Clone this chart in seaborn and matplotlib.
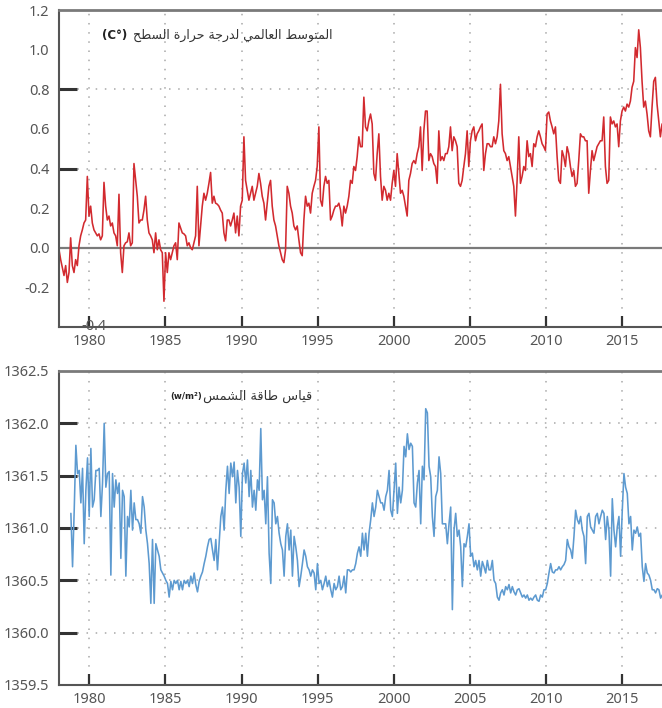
import numpy as np
import pandas as pd
import matplotlib
matplotlib.use("Agg")
import matplotlib.pyplot as plt
import seaborn as sns
from matplotlib.ticker import FixedLocator

# ---------------------------------------------------------------- data
# Global mean surface temperature anomaly (deg C), regular sampling
temp_start = 1978.01
temp_step = 0.1094
temp_anomaly = [
    -0.01, -0.06, -0.10, -0.14, -0.09, -0.175, -0.125, 0.05, -0.09, -0.125,
    -0.06, -0.09, 0.01, 0.06, 0.09, 0.125, 0.14, 0.36, 0.16, 0.21,
    0.125, 0.09, 0.075, 0.06, 0.07, 0.04, 0.06, 0.33, 0.21, 0.14,
    0.16, 0.11, 0.125, 0.075, 0.06, 0.01, 0.27, -0.025, -0.125, 0.01,
    0.025, 0.03, 0.075, 0.01, 0.025, 0.425, 0.34, 0.26, 0.125, 0.14,
    0.14, 0.19, 0.26, 0.14, 0.075, 0.06, 0.04, -0.025, 0.075, -0.01,
    0.04, -0.01, -0.025, -0.27, -0.025, -0.125, -0.025, -0.06, -0.025, 0.01,
    0.025, -0.06, 0.125, 0.10, 0.075, 0.07, 0.06, 0.01, 0.025, 0.0,
    -0.01, 0.025, 0.06, 0.31, 0.01, 0.11, 0.21, 0.275, 0.24, 0.275,
    0.325, 0.38, 0.225, 0.26, 0.225, 0.22, 0.21, 0.19, 0.175, 0.075,
    0.035, 0.14, 0.14, 0.11, 0.14, 0.175, 0.075, 0.16, 0.06, 0.21,
    0.24, 0.56, 0.34, 0.29, 0.24, 0.275, 0.31, 0.24, 0.275, 0.31,
    0.375, 0.325, 0.26, 0.225, 0.14, 0.225, 0.31, 0.34, 0.21, 0.14,
    0.11, 0.06, 0.01, -0.025, -0.06, -0.075, -0.01, 0.31, 0.275, 0.21,
    0.175, 0.11, 0.09, 0.11, 0.04, -0.025, -0.04, 0.14, 0.26, 0.21,
    0.225, 0.175, 0.275, 0.31, 0.34, 0.41, 0.61, 0.24, 0.21, 0.31,
    0.36, 0.325, 0.34, 0.14, 0.16, 0.19, 0.21, 0.21, 0.225, 0.19,
    0.11, 0.21, 0.175, 0.21, 0.26, 0.34, 0.325, 0.41, 0.39, 0.46,
    0.56, 0.51, 0.51,
    0.76, 0.61, 0.59, 0.64, 0.675, 0.625, 0.375, 0.34, 0.475, 0.575,
    0.36, 0.24, 0.31, 0.29, 0.24, 0.275, 0.24, 0.325, 0.39, 0.31,
    0.475, 0.375, 0.275, 0.29, 0.26, 0.21, 0.16, 0.34, 0.375, 0.425,
    0.44, 0.425, 0.475, 0.51, 0.61, 0.39, 0.59, 0.69, 0.69, 0.44,
    0.475, 0.46, 0.425, 0.41, 0.325, 0.59, 0.44, 0.46, 0.44, 0.475,
    0.475, 0.51, 0.61, 0.49, 0.56, 0.54, 0.51, 0.325, 0.31, 0.34,
    0.41, 0.475, 0.59, 0.41, 0.54, 0.59, 0.61, 0.54, 0.575, 0.59,
    0.61, 0.625, 0.39, 0.475, 0.525, 0.525, 0.51, 0.51, 0.56, 0.525,
    0.56, 0.64, 0.825, 0.575, 0.49, 0.475, 0.44, 0.46, 0.41, 0.36,
    0.31, 0.16, 0.34, 0.56, 0.325, 0.36, 0.41, 0.39, 0.54, 0.46,
    0.475, 0.41, 0.525, 0.51, 0.56, 0.59, 0.56, 0.525, 0.51, 0.49,
    0.675, 0.685, 0.64, 0.61, 0.575, 0.61, 0.46, 0.34, 0.325, 0.49,
    0.46, 0.41, 0.51, 0.475, 0.41, 0.36, 0.39, 0.31, 0.325, 0.44,
    0.575, 0.56, 0.56, 0.54, 0.54, 0.275, 0.39, 0.49, 0.44, 0.475,
    0.51, 0.525, 0.54, 0.54, 0.66, 0.41, 0.325, 0.34, 0.66, 0.625,
    0.64, 0.61, 0.625, 0.51, 0.64, 0.69, 0.71, 0.69, 0.725, 0.71,
    0.74, 0.81, 0.84, 1.01, 0.96, 1.10, 1.01, 0.84, 0.71, 0.74,
    0.675, 0.59, 0.56, 0.71, 0.84, 0.86, 0.725, 0.64, 0.56, 0.625,
]

# Total solar irradiance (W/m2), same sampling interval
tsi_start = 1978.79
tsi_step = 0.1094
tsi_values = [
    1361.14, 1360.63, 1361.17, 1361.79, 1361.52, 1361.55, 1361.24, 1361.57, 1360.85, 1361.36,
    1361.67, 1361.11, 1361.76, 1361.20, 1361.27, 1361.55, 1361.55, 1361.57, 1361.11, 1361.43,
    1362.00, 1361.39, 1361.52, 1361.54, 1360.55, 1361.52, 1361.20, 1361.46, 1361.33, 1361.43,
    1360.71, 1361.36, 1361.30, 1360.54, 1361.11, 1361.01, 1361.36, 1360.98, 1361.24, 1361.08,
    1361.08, 1361.04, 1360.95, 1361.30, 1361.20, 1360.98, 1360.85, 1360.66, 1360.28, 1360.89,
    1360.28, 1360.85, 1360.79, 1360.73, 1360.60, 1360.57, 1360.54, 1360.50, 1360.47, 1360.34,
    1360.49, 1360.41, 1360.50, 1360.47, 1360.50, 1360.41, 1360.49, 1360.41, 1360.50, 1360.47,
    1360.50, 1360.44, 1360.54, 1360.47, 1360.57, 1360.46, 1360.39, 1360.49, 1360.54, 1360.58,
    1360.66, 1360.73, 1360.82, 1360.89, 1360.90, 1360.79, 1360.69, 1360.89, 1360.60, 1360.85,
    1361.11, 1361.20, 1360.98, 1361.36, 1361.59, 1361.33, 1361.62, 1361.49, 1361.63, 1361.24,
    1361.55, 1361.39, 1360.92, 1361.52, 1361.62, 1361.43, 1361.65, 1361.30, 1361.55, 1361.20,
    1361.36, 1361.17, 1361.46, 1361.36, 1361.95, 1361.27, 1361.36, 1361.04, 1361.49, 1360.76,
    1360.47, 1361.27, 1361.24, 1361.04, 1361.11, 1360.95, 1360.85, 1360.79, 1360.54, 1360.92,
    1361.04, 1360.79, 1360.98, 1360.54, 1360.92, 1360.82, 1360.69, 1360.44, 1360.54, 1360.66,
    1360.79, 1360.73, 1360.63, 1360.60, 1360.54, 1360.60, 1360.57, 1360.41, 1360.66, 1360.47,
    1360.50, 1360.41, 1360.47, 1360.54, 1360.44, 1360.50, 1360.41, 1360.34, 1360.47, 1360.41,
    1360.44, 1360.54, 1360.41, 1360.44, 1360.54, 1360.38, 1360.60, 1360.60, 1360.58, 1360.60,
    1360.60, 1360.66, 1360.76, 1360.82, 1360.73, 1360.95,
    1360.79, 1360.95, 1360.73, 1360.95, 1361.08, 1361.24, 1361.11, 1361.20, 1361.36, 1361.30,
    1361.24, 1361.24, 1361.17, 1361.30, 1361.36, 1361.55, 1361.17, 1361.11, 1361.36, 1361.62,
    1361.14, 1361.39, 1361.24, 1361.36, 1361.78, 1361.68, 1361.90, 1361.75, 1361.81, 1361.78,
    1361.24, 1361.20, 1361.43, 1361.55, 1361.04, 1361.59, 1361.46, 1362.14, 1362.10, 1361.59,
    1361.49, 1361.11, 1360.92, 1361.30, 1361.36, 1361.68, 1361.52, 1361.04, 1361.04, 1361.04,
    1360.85, 1361.04, 1361.20, 1360.22, 1360.98, 1361.14, 1360.92, 1360.98, 1360.82, 1360.44,
    1360.85, 1360.82, 1360.92, 1361.04, 1360.73, 1360.76, 1360.63, 1360.69, 1360.60, 1360.69,
    1360.54, 1360.68, 1360.63, 1360.57, 1360.69, 1360.60, 1360.60, 1360.69, 1360.50, 1360.47,
    1360.34, 1360.31, 1360.38, 1360.41, 1360.36, 1360.44, 1360.41, 1360.46, 1360.38, 1360.44,
    1360.39, 1360.36, 1360.41, 1360.42, 1360.38, 1360.34, 1360.36, 1360.33, 1360.36, 1360.31,
    1360.33, 1360.31, 1360.34, 1360.36, 1360.31, 1360.30, 1360.36, 1360.34, 1360.41, 1360.41,
    1360.47, 1360.57, 1360.66, 1360.58, 1360.57, 1360.60, 1360.60, 1360.63, 1360.60, 1360.63,
    1360.65, 1360.69, 1360.89, 1360.82, 1360.79, 1360.71, 1360.92, 1361.17, 1361.08, 1361.04,
    1361.11, 1360.98, 1360.92, 1360.66, 1361.11, 1361.14, 1361.01, 1360.98, 1360.95, 1361.11,
    1361.14, 1361.04, 1361.11, 1361.17, 1361.14, 1360.89, 1361.11, 1360.98, 1360.54, 1361.28,
    1360.98, 1360.82, 1361.01, 1361.11, 1360.73, 1361.17, 1361.52, 1361.39, 1361.33, 1361.04,
    1361.11, 1360.79, 1360.98, 1360.95, 1361.01, 1360.92, 1360.95, 1360.63, 1360.49, 1360.66,
    1360.57, 1360.55, 1360.50, 1360.41, 1360.41, 1360.38, 1360.42, 1360.41, 1360.33, 1360.36,
]

year_ticks = [1980, 1985, 1990, 1995, 2000, 2005, 2010, 2015]
temp_label_ticks = [-0.2, 0.0, 0.2, 0.4, 0.6, 0.8, 1.0, 1.2]
temp_grid_ticks = [0.4, 0.8]
tsi_label_ticks = [1359.5, 1360.0, 1360.5, 1361.0, 1361.5, 1362.0, 1362.5]
tsi_grid_ticks = [1360.0, 1360.5, 1361.0, 1361.5, 1362.0]

temp_title = "المتوسط العالمي لدرجة حرارة السطح"
temp_unit = "(C°)"
tsi_title = "قياس طاقة الشمس"
tsi_unit = "(w/m²)"

temp_df = pd.DataFrame({
    "year": temp_start + temp_step * np.arange(len(temp_anomaly)),
    "anomaly": temp_anomaly,
})
tsi_df = pd.DataFrame({
    "year": tsi_start + tsi_step * np.arange(len(tsi_values)),
    "tsi": tsi_values,
})

# ---------------------------------------------------------------- Arabic shaping
# (isolated, final, initial, medial) presentation forms
_FORMS = {
    "ا": ("\uFE8D", "\uFE8E", None, None),
    "ت": ("\uFE95", "\uFE96", "\uFE97", "\uFE98"),
    "ج": ("\uFE9D", "\uFE9E", "\uFE9F", "\uFEA0"),
    "ح": ("\uFEA1", "\uFEA2", "\uFEA3", "\uFEA4"),
    "د": ("\uFEA9", "\uFEAA", None, None),
    "ر": ("\uFEAD", "\uFEAE", None, None),
    "س": ("\uFEB1", "\uFEB2", "\uFEB3", "\uFEB4"),
    "ش": ("\uFEB5", "\uFEB6", "\uFEB7", "\uFEB8"),
    "ط": ("\uFEC1", "\uFEC2", "\uFEC3", "\uFEC4"),
    "ع": ("\uFEC9", "\uFECA", "\uFECB", "\uFECC"),
    "ق": ("\uFED5", "\uFED6", "\uFED7", "\uFED8"),
    "ل": ("\uFEDD", "\uFEDE", "\uFEDF", "\uFEE0"),
    "م": ("\uFEE1", "\uFEE2", "\uFEE3", "\uFEE4"),
    "ة": ("\uFE93", "\uFE94", None, None),
    "و": ("\uFEED", "\uFEEE", None, None),
    "ي": ("\uFEF1", "\uFEF2", "\uFEF3", "\uFEF4"),
}


def shape_arabic(text):
    chars = list(text)
    out = []
    for i, ch in enumerate(chars):
        if ch not in _FORMS:
            out.append(ch)
            continue
        iso, fin, ini, med = _FORMS[ch]
        prev = chars[i - 1] if i > 0 else ""
        nxt = chars[i + 1] if i + 1 < len(chars) else ""
        joins_prev = prev in _FORMS and _FORMS[prev][2] is not None
        joins_next = ini is not None and nxt in _FORMS
        if joins_prev and joins_next:
            out.append(med)
        elif joins_prev:
            out.append(fin)
        elif joins_next:
            out.append(ini)
        else:
            out.append(iso)
    return "".join(reversed(out))


# ---------------------------------------------------------------- style
sns.set_theme(style="white")
plt.rcParams["font.family"] = ["Noto Sans", "DejaVu Sans"]

LABEL_COLOR = "#555555"
TICK_COLOR = "#333333"
GRID_KW = dict(color="#a8a8a8", linestyle=(0, (1, 5)), linewidth=1.1)
FS = 10.5

W, H = 662, 708
fig = plt.figure(figsize=(W / 100, H / 100), dpi=100)
ax1 = fig.add_axes([59 / W, 1 - 327 / H, 1 - 59 / W, (327 - 10) / H])
ax2 = fig.add_axes([59 / W, 1 - 685 / H, 1 - 59 / W, (685 - 371) / H])

sns.lineplot(data=temp_df, x="year", y="anomaly", ax=ax1,
             color="#d22a2f", linewidth=1.15)
sns.lineplot(data=tsi_df, x="year", y="tsi", ax=ax2,
             color="#5d9ad0", linewidth=1.15)

ax1.axhline(0.0, color="#7a7a7a", linewidth=1.6, zorder=1)


def style_axes(ax, ylim, label_ticks, grid_ticks, fmt):
    ax.set_xlim(1978.01, 2017.61)
    ax.set_ylim(*ylim)
    ax.set_xlabel("")
    ax.set_ylabel("")
    ax.set_xticks(year_ticks)
    ax.set_xticklabels([str(y) for y in year_ticks])
    ax.set_yticks(label_ticks)
    ax.set_yticklabels([fmt.format(v) for v in label_ticks])
    # grid ticks share positions with labelled ticks, keep both sets
    ax.yaxis.remove_overlapping_locs = False
    ax.yaxis.set_minor_locator(FixedLocator(grid_ticks))
    ax.tick_params(axis="y", which="major", length=0, pad=7,
                   labelsize=FS, labelcolor=LABEL_COLOR)
    ax.tick_params(axis="y", which="minor", left=True, length=13, width=2.2,
                   color=TICK_COLOR, direction="in")
    ax.tick_params(axis="x", which="major", bottom=True, length=8, width=1.6,
                   color=TICK_COLOR, direction="in", pad=5,
                   labelsize=FS, labelcolor=LABEL_COLOR)
    ax.grid(False)
    ax.grid(True, axis="x", which="major", **GRID_KW)
    ax.grid(True, axis="y", which="minor", **GRID_KW)
    ax.set_axisbelow(True)
    for side in ("left", "bottom"):
        ax.spines[side].set_color("#555555")
        ax.spines[side].set_linewidth(1.5)
    ax.spines["top"].set_color("#7a7a7a")
    ax.spines["top"].set_linewidth(2.0)
    ax.spines["right"].set_visible(False)


style_axes(ax1, (-0.4, 1.2), temp_label_ticks, temp_grid_ticks, "{:.1f}")
style_axes(ax2, (1359.5, 1362.5), tsi_label_ticks, tsi_grid_ticks, "{:.1f}")

# the lowest temperature label sits beside the first year tick
ax1.text(1980.3, -0.4, "-0.4", ha="center", va="center",
         fontsize=FS, color=LABEL_COLOR)

# panel captions: Arabic title with its unit to the left
t1 = ax1.text(0.453, 0.921, shape_arabic(temp_title), transform=ax1.transAxes,
              ha="right", va="center", fontsize=9, color="#333333",
              family="DejaVu Sans")
ax1.annotate(temp_unit, xy=(0, 0.5), xycoords=t1, xytext=(-4, 0),
             textcoords="offset points", ha="right", va="center",
             fontsize=8.5, fontweight="bold", color="#222222",
             family="DejaVu Sans")

t2 = ax2.text(0.42, 0.920, shape_arabic(tsi_title), transform=ax2.transAxes,
              ha="right", va="center", fontsize=9.4, color="#333333",
              family="DejaVu Sans")
ax2.annotate(tsi_unit, xy=(0, 0.5), xycoords=t2, xytext=(-1, 0),
             textcoords="offset points", ha="right", va="center",
             fontsize=6.2, fontweight="bold", color="#222222",
             family="DejaVu Sans")

fig.savefig("out.png", dpi=100, facecolor="white")
